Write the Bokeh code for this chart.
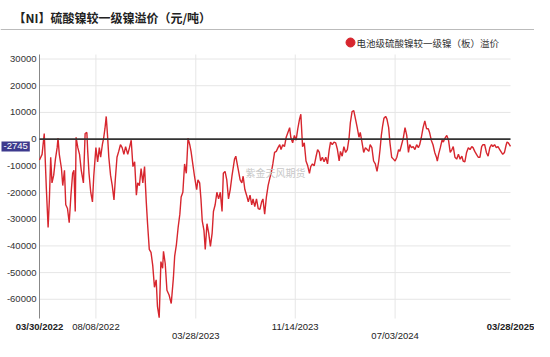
import pandas as pd
from bokeh.plotting import figure
from bokeh.models import Range1d, Span, ColumnDataSource
from bokeh.core.properties import value
from bokeh.embed import file_html
from bokeh.resources import INLINE

title_text = "【NI】硫酸镍较一级镍溢价（元/吨）"
series_name = "电池级硫酸镍较一级镍（板）溢价"
watermark_text = "紫金天风期货"
start_date = "2022-03-30"

day_offsets = [
    0, 6, 11, 16, 20, 23, 26, 29, 33, 37, 41, 43, 46, 51, 54, 58, 61, 65, 69, 73,
    77, 80, 83, 85, 89, 93, 97, 102, 106, 110, 112, 115, 119, 123, 126, 131, 135, 139, 142, 146,
    149, 152, 155, 158, 161, 165, 169, 173, 176, 180, 184, 188, 192, 196, 200, 205,
    209, 213, 217, 221, 225, 228, 232, 236, 240, 244, 248, 251, 255, 259, 263, 267, 271, 274, 278, 282,
    286, 288, 292, 296, 301, 306, 311, 314, 318, 322, 326, 329, 333, 337, 341, 345, 349, 352, 356, 360,
    365, 368, 372, 375, 378, 382, 385, 389, 393, 397, 401, 404, 408, 412, 416, 420, 424, 427, 431, 435,
    439, 443, 447, 453, 456,
    458, 462, 466, 470, 473, 477, 481, 485, 489, 493, 496, 500, 504, 508, 512, 516, 519, 523, 527, 531,
    535, 538, 542, 546, 550, 554, 558, 561, 565, 569, 573, 577, 581, 584, 588, 592, 596, 600, 604, 607,
    611, 615, 619, 623, 627, 630, 634, 638, 642, 646, 650, 653, 657, 661, 665, 669, 673, 676,
    680, 684, 688, 692, 696, 699, 703, 707, 711, 715, 719, 722, 726, 730, 734, 738, 742, 745, 749, 753,
    757, 761, 765, 768, 772, 776, 780, 784, 788, 791, 794, 797, 800, 804, 807, 811, 814, 818, 822, 826,
    830, 834, 837, 841, 845, 849, 853, 857, 860, 864, 868, 872, 876, 880, 883, 887,
    891, 895, 899, 903, 906, 910, 914, 918, 922, 924, 927, 931, 935, 938, 942, 946, 950, 954, 958, 961,
    965, 969, 973, 977, 981, 984, 988, 992, 996, 1000, 1004, 1007, 1011, 1015, 1019, 1023, 1027, 1030, 1034, 1038,
    1042, 1046, 1050, 1053, 1057, 1061, 1065, 1069, 1073, 1076, 1080, 1084, 1086, 1089, 1094,
]

premium = [
    -7800, -5700, 2100, -18900, -33100, -22400, -6800, -16400, -13500, -7500,
    -3200, 400, -5700, -11000, -17400, -11700, -24600, -26000, -31300, -21000,
    -12800, -11700, -27100, 700, -3200, -5700, -11700, -16400, 2100, 2500,
    -4600, -12800, -19900, -23500, -13900, -3200, -8500, -3200, -6800, -2100,
    400, 3900, 8500, 1400, -6800, -13500, -17400, -22800, -15300, -6800,
    -4600, -2100, -3200, -5700, -2800, -5700,
    -3200, -400, -10300, -8500, -21000, -16400, -17400, -11000, -16400, -10300,
    -23500, -31700, -41300, -42400, -47300, -55500, -52700, -62700, -66900, -45900,
    -48400, -42000, -46600, -56600, -58400, -61600, -52000, -43800, -39500, -33100,
    -28100, -21700, -19900, -9300, -12800, 400, -2100, -4600, -9300, -13900,
    -18900, -15300, -16400, -22400, -30600, -34200, -41300, -31700, -35200, -40200,
    -35200, -27100, -24600, -19900, -22400, -19900, -27100, -12800, -12100, -15300,
    -22400, -18900, -13900, -7500, -6400,
    -8200, -11700, -15300, -16400, -13900, -18900, -21000, -23500, -21000, -24600,
    -22400, -25300, -22400, -26000, -26300, -23500, -22400, -28100, -21700, -17400,
    -14600, -12800, -9300, -5000, -4600, -3200, -2100, -3900, -2100, -2800,
    700, 2500, 4300, 400, -1400, 1400, -400, 3900, 7500, 9300,
    -2800, -1400, -8200, -10000, -12800, -10300, -9300, -10000, -6800, -3900,
    -5000, -8200, -6800, -8500, -6800, -9300, -3900, -1100,
    -2100, -1100, -1400, -3900, -8200, -4600, -6400, -2800, -5000, -3900,
    400, 6100, 10300, 10700, 7500, 4300, 700, 2500, -1100, -5000,
    -3200, -3900, -4600, -2100, -3200, -8200, -9300, -12100, -8200, -3900,
    1400, 5000, 7800, 8500, 7500, 4300, -1400, -6800, -7500, -8200,
    -6800, -3900, -4600, -2100, 400, 4300, 1400, -5000, -2100, -3200,
    -2800, -3900, -2100, -3200, -2100, 700,
    4300, 6800, 3900, 3900, 2500, -400, -2100, -5000, -6800, -8200,
    -5700, -3200, -400, -1100, 400, 1400, -400, -5000, -3900, -2800,
    -6800, -7500, -5700, -7500, -6400, -8200, -8500, -5000, -3200, -3900,
    -2800, -3200, -4600, -5700, -6800, -6800, -2800, -2100, -2100, -5000,
    -6400, -3200, -2100, -2800, -2100, -3200, -2800, -3900, -5000, -5700,
    -5000, -2100, -1100, -1400, -2745,
]

y_ticks = [30000, 20000, 10000, 0, -10000, -20000, -30000, -40000, -50000, -60000]
y_min, y_max = -67200, 31700
x_tick_dates = ["2022-03-30", "2022-08-08", "2023-03-28", "2023-11-14", "2024-07-03", "2025-03-28"]
x_tick_text = ["03/30/2022", "08/08/2022", "03/28/2023", "11/14/2023", "07/03/2024", "03/28/2025"]
x_tick_bold = [True, False, False, False, False, True]
x_tick_row = [0, 0, 1, 0, 1, 0]
x_grid_dates = ["2022-08-08", "2023-03-28", "2023-11-14", "2024-07-03"]

RED = "#d7262e"
CJK = "Noto Sans CJK SC"
LAT = "Liberation Sans"


def ms(d):
    return pd.Timestamp(d).value / 1e6


dates = [ms(pd.Timestamp(start_date) + pd.Timedelta(days=d)) for d in day_offsets]
src = ColumnDataSource(dict(date=dates, premium=premium))

# canvas layout (pixels) -> plot area
CW, CH = 534, 341
PL, PR, PT, PB = 39, 510, 54, 318
t0, t1 = dates[0], dates[-1]
kx = (t1 - t0) / (PR - PL)
ky = (y_max - y_min) / (PB - PT)


def px2x(px):
    return t0 + (px - PL) * kx


def py2y(py):
    return y_max - (py - PT) * ky


p = figure(width=CW, height=CH, output_backend="svg", toolbar_location=None,
           x_axis_location=None, y_axis_location=None,
           x_range=Range1d(px2x(0), px2x(CW)), y_range=Range1d(py2y(CH), py2y(0)),
           min_border=0, min_border_left=0, min_border_right=0,
           min_border_top=0, min_border_bottom=0)
p.outline_line_color = None
p.background_fill_color = "white"
p.border_fill_color = "white"
p.grid.visible = False

# grid lines
p.segment(x0=[t0] * len(y_ticks), x1=[t1] * len(y_ticks), y0=y_ticks, y1=y_ticks,
          line_color="#e6e6e6", line_width=1)
gx = [ms(d) for d in x_grid_dates]
p.segment(x0=gx, x1=gx, y0=[y_min] * len(gx), y1=[y_max] * len(gx),
          line_color="#e6e6e6", line_width=1)

# y axis line and labels
p.segment(x0=[t0], x1=[t0], y0=[y_min], y1=[y_max], line_color="#888888", line_width=1)
p.text(x=[t0] * len(y_ticks), y=y_ticks, text=[str(v) for v in y_ticks],
       x_offset=-3, text_align="right", text_baseline="middle",
       text_font=value(LAT), text_font_size="9.5px", text_color="#333333")

# series
p.line("date", "premium", source=src, line_color=RED, line_width=1.4)

# zero line
p.segment(x0=[t0], x1=[t1], y0=[0], y1=[0], line_color="#333333", line_width=1.6)

# x labels
xl = ColumnDataSource(dict(
    x=[ms(d) for d in x_tick_dates], y=[y_min] * len(x_tick_dates), text=x_tick_text,
    yo=[8 + 9 * r for r in x_tick_row],
    style=["bold" if b else "normal" for b in x_tick_bold]))
p.text(x="x", y="y", text="text", y_offset="yo", text_font_style="style", source=xl,
       text_align="center", text_baseline="middle",
       text_font=value(LAT), text_font_size="9.5px", text_color="#222222")

# title and separator
p.text(x=[px2x(13)], y=[py2y(17)], text=[title_text], text_font=value(CJK),
       text_font_size="12px", text_font_style="bold", text_color="#222222",
       text_baseline="middle")
p.add_layout(Span(location=py2y(29), dimension="width", line_color="#bbbbbb", line_width=1))

# legend (swatch + label)
p.scatter(x=[px2x(350)], y=[py2y(42)], marker="circle", size=9,
          fill_color=RED, line_color=RED)
p.text(x=[px2x(356)], y=[py2y(42)], text=[series_name], text_font=value(CJK),
       text_font_size="9.5px", text_color="#333333", text_baseline="middle")

# watermark
p.text(x=[px2x(275)], y=[py2y(172)], text=[watermark_text], text_font=value(CJK),
       text_font_size="10px", text_color="#c8c8c8", text_align="center",
       text_baseline="middle")

# last value marker
p.text(x=[px2x(1)], y=[premium[-1]], text=[str(premium[-1])], text_font=value(LAT),
       text_font_size="9.5px", text_color="white", text_baseline="middle",
       background_fill_color="#3d3a8e", padding=2)

open("out.html", "w").write(file_html(p, INLINE))
